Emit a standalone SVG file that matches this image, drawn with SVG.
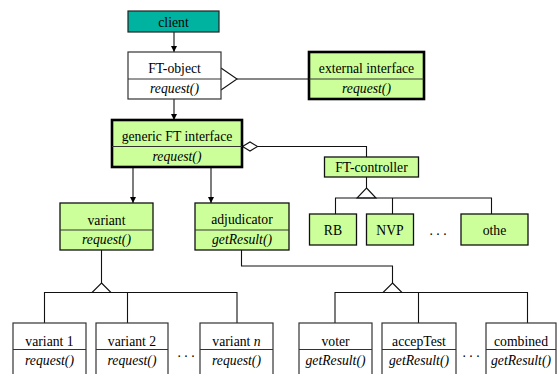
<svg xmlns="http://www.w3.org/2000/svg" width="557" height="374" viewBox="0 0 557 374">
<defs>
<marker id="arr" viewBox="0 0 10 10" refX="10" refY="5" markerWidth="6" markerHeight="6" markerUnits="userSpaceOnUse" orient="auto">
<path d="M0,0 L10,5 L0,10 z" fill="#000"/>
</marker>
</defs>
<style>
text{font-family:'Liberation Serif','DejaVu Serif',serif;font-size:13.7px;fill:#000;text-anchor:middle}
.it{font-style:italic}
.g{fill:#CCFF99;stroke:#111;stroke-width:1.3}
.gt{fill:#CCFF99;stroke:#000;stroke-width:2.6}
.w{fill:#fff;stroke:#333;stroke-width:1.2}
.ln{fill:none;stroke:#111;stroke-width:1.1}
.dv{stroke:#333;stroke-width:1}
</style>
<g id="connectors" class="ln">
<line x1="174" y1="32" x2="174" y2="52" marker-end="url(#arr)"/>
<line x1="174" y1="99" x2="174" y2="120" marker-end="url(#arr)"/>
<polyline points="221,68 237,79 221,90"/>
<line x1="237" y1="79" x2="309" y2="79"/>
<polygon points="242.5,146.5 250,142 257.5,146.5 250,151" fill="#fff"/>
<polyline points="257.5,146.5 366.5,146.5 366.5,157"/>
<line x1="133" y1="167" x2="133" y2="203" marker-end="url(#arr)"/>
<line x1="211" y1="167" x2="211" y2="203" marker-end="url(#arr)"/>
<line x1="366.5" y1="177" x2="366.5" y2="188"/>
<polygon points="366.5,188 376,198 357,198" fill="#fff"/>
<polyline points="335.5,214 335.5,198 491.5,198 491.5,214"/>
<line x1="392.5" y1="198" x2="392.5" y2="214"/>
<line x1="101.5" y1="250" x2="101.5" y2="283"/>
<polygon points="101.5,283 111,292.5 92,292.5" fill="#fff"/>
<polyline points="44.5,323 44.5,292.5 237,292.5 237,323"/>
<line x1="127.5" y1="292.5" x2="127.5" y2="323"/>
<polyline points="241.5,250 241.5,266 392.5,266 392.5,283"/>
<polygon points="392.5,283 402,292.5 383,292.5" fill="#fff"/>
<polyline points="335,323 335,292.5 527.5,292.5 527.5,323"/>
<line x1="418.5" y1="292.5" x2="418.5" y2="323"/>
</g>
<g id="client">
<rect x="128" y="11" width="91" height="21" fill="#00B2A0" stroke="#222" stroke-width="1.2"/>
<text x="173.5" y="26.5">client</text>
</g>
<g id="ft-object">
<rect class="w" x="128" y="52" width="93" height="47"/>
<line class="dv" x1="128" y1="79" x2="221" y2="79"/>
<text x="174.5" y="73">FT-object</text>
<text class="it" x="174.5" y="93">request()</text>
</g>
<g id="external-interface">
<rect class="gt" x="309" y="52" width="115" height="47"/>
<line class="dv" x1="309" y1="79" x2="424" y2="79"/>
<text x="366.5" y="73">external interface</text>
<text class="it" x="366.5" y="93">request()</text>
</g>
<g id="generic-ft-interface">
<rect class="gt" x="112" y="120" width="130" height="47"/>
<line class="dv" x1="112" y1="146.5" x2="242" y2="146.5"/>
<text x="177" y="141">generic FT interface</text>
<text class="it" x="177" y="161">request()</text>
</g>
<g id="ft-controller">
<rect class="g" x="324.5" y="157" width="94" height="20"/>
<text x="371.5" y="171.5">FT-controller</text>
</g>
<g id="rb">
<rect class="g" x="309.5" y="214" width="47" height="31"/>
<text x="333" y="235">RB</text>
</g>
<g id="nvp">
<rect class="g" x="366.5" y="214" width="47" height="31"/>
<text x="390" y="235">NVP</text>
</g>
<text x="438" y="235">. . .</text>
<g id="othe">
<rect class="g" x="461" y="214" width="67" height="31"/>
<text x="494.5" y="235">othe</text>
</g>
<g id="variant">
<rect class="g" x="60" y="203" width="93" height="47"/>
<line class="dv" x1="60" y1="230" x2="153" y2="230"/>
<text x="106.5" y="224.5">variant</text>
<text class="it" x="106.5" y="244">request()</text>
</g>
<g id="adjudicator">
<rect class="g" x="195" y="203" width="94" height="47"/>
<line class="dv" x1="195" y1="230" x2="289" y2="230"/>
<text x="242" y="224">adjudicator</text>
<text class="it" x="242" y="244">getResult()</text>
</g>
<g id="variant1">
<rect class="w" x="13" y="323" width="73" height="60"/>
<line class="dv" x1="13" y1="349.5" x2="86" y2="349.5"/>
<text x="49.5" y="346">variant 1</text>
<text class="it" x="49.5" y="365">request()</text>
</g>
<g id="variant2">
<rect class="w" x="96" y="323" width="72" height="60"/>
<line class="dv" x1="96" y1="349.5" x2="168" y2="349.5"/>
<text x="132" y="346">variant 2</text>
<text class="it" x="132" y="365">request()</text>
</g>
<text x="186" y="357">. . .</text>
<g id="variantn">
<rect class="w" x="200" y="323" width="73" height="60"/>
<line class="dv" x1="200" y1="349.5" x2="273" y2="349.5"/>
<text x="236.5" y="346">variant <tspan class="it">n</tspan></text>
<text class="it" x="236.5" y="365">request()</text>
</g>
<g id="voter">
<rect class="w" x="299" y="323" width="73" height="60"/>
<line class="dv" x1="299" y1="349.5" x2="372" y2="349.5"/>
<text x="335.5" y="346">voter</text>
<text class="it" x="335.5" y="365">getResult()</text>
</g>
<g id="acceptest">
<rect class="w" x="382" y="323" width="74" height="60"/>
<line class="dv" x1="382" y1="349.5" x2="456" y2="349.5"/>
<text x="419" y="346">accepTest</text>
<text class="it" x="419" y="365">getResult()</text>
</g>
<text x="471" y="357">. . .</text>
<g id="combined">
<rect class="w" x="486" y="323" width="70" height="60"/>
<line class="dv" x1="486" y1="349.5" x2="556" y2="349.5"/>
<text x="521" y="346">combined</text>
<text class="it" x="521" y="365">getResult()</text>
</g>
</svg>
